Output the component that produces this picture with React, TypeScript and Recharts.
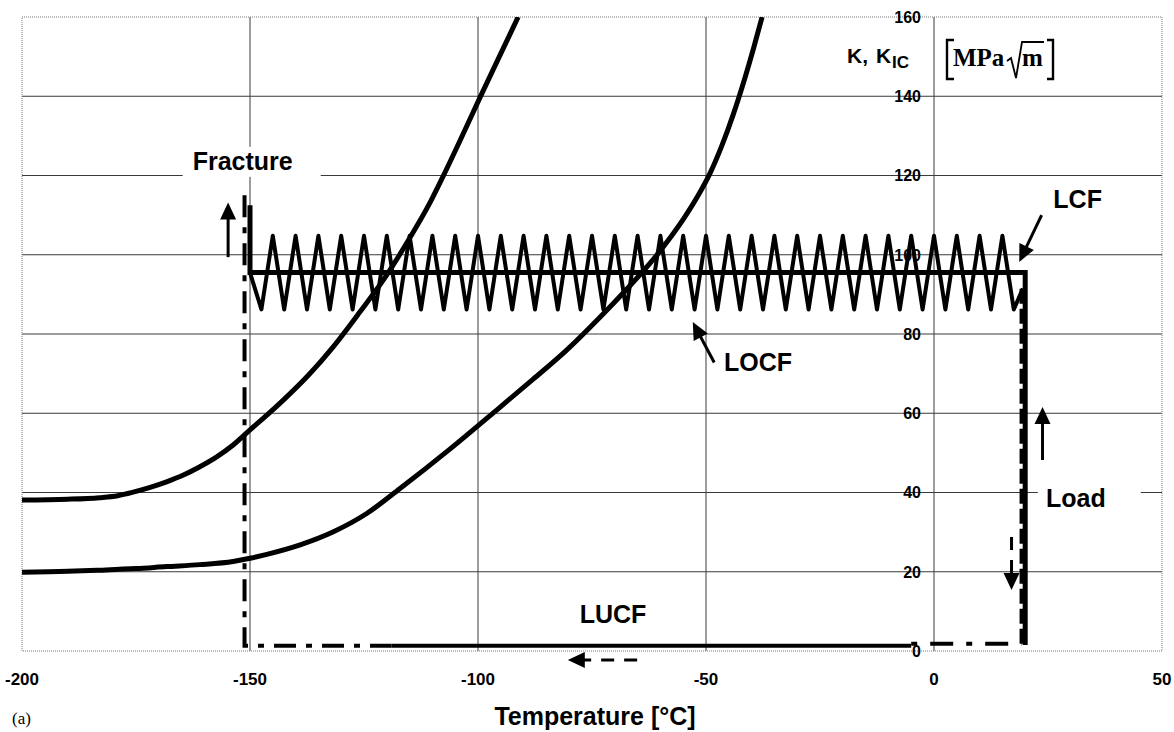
import React from 'react';
import {
  LineChart, Line, XAxis, YAxis, CartesianGrid, ReferenceLine, ReferenceDot, ReferenceArea,
} from 'recharts';

const SANS = 'Arial, "Liberation Sans", Helvetica, sans-serif';
const SERIF = '"Times New Roman", "Liberation Serif", serif';

const W = 1174;
const H = 732;

// axes: temperature (°C) and stress intensity K (MPa·√m)
const xTicks = [-200, -150, -100, -50, 0, 50];
const yTicks = [0, 20, 40, 60, 80, 100, 120, 140, 160];
const xGridValues = [-150, -100, -50, 0];
const yGridValues = [20, 40, 60, 80, 100, 120, 140];

// K_IC transition curve, upper
const kicUpperT = [-200, -190, -183, -179, -175.6, -171.9, -168.3, -164.6, -161, -157.3, -153.7, -150,
  -146.3, -142.7, -137.1, -131.8, -126, -120, -115.3, -110.5, -107.9, -103.9, -99.6, -95.4, -91.2];
const kicUpperK = [38.1, 38.3, 38.7, 39.2, 40.1, 41.3, 42.7, 44.4, 46.5, 49, 52, 55.8,
  59.5, 63.3, 69.7, 76.7, 85.4, 94.9, 103.6, 113.2, 119.2, 128.9, 139.6, 149.8, 160];

// K_IC transition curve, lower
const kicLowerT = [-200, -190, -182.9, -175, -168.3, -161, -153.7, -150, -146.3, -139, -131.7, -124.4,
  -117.1, -106.1, -95.2, -87.9, -80.5, -73.2, -67.8, -62.3, -57.9, -54.6, -51.8, -49.1, -46.5, -44,
  -41.5, -39.6, -37.7];
const kicLowerK = [19.9, 20.1, 20.4, 20.8, 21.3, 21.8, 22.6, 23.4, 24.4, 26.8, 30.1, 34.7,
  41, 51, 61.5, 68.6, 76, 84.3, 90.8, 97.8, 104.2, 109.6, 114.8, 120.6, 127.6, 135.5,
  144.5, 152, 160];

// LCF: load up at -150, hold along the plateau, unload path at +20
const lcfT = [-150, -150, 20, 20];
const lcfK = [112.5, 95.5, 95.5, 1.5];

// LOCF: cycling about the plateau
const locfT = [-150, -147.5, -145, -142.5, -140, -137.5, -135, -132.5, -130, -127.5, -125, -122.5, -120,
  -117.5, -115, -112.5, -110, -107.5, -105, -102.5, -100, -97.5, -95, -92.5, -90, -87.5, -85, -82.5, -80,
  -77.5, -75, -72.5, -70, -67.5, -65, -62.5, -60, -57.5, -55, -52.5, -50, -47.5, -45, -42.5, -40, -37.5,
  -35, -32.5, -30, -27.5, -25, -22.5, -20, -17.5, -15, -12.5, -10, -7.5, -5, -2.5, 0, 2.5, 5, 7.5, 10,
  12.5, 15, 17.5, 19.5];
const locfK = [95.5, 86.2, 104.8, 86.2, 104.8, 86.2, 104.8, 86.2, 104.8, 86.2, 104.8, 86.2, 104.8,
  86.2, 104.8, 86.2, 104.8, 86.2, 104.8, 86.2, 104.8, 86.2, 104.8, 86.2, 104.8, 86.2, 104.8, 86.2, 104.8,
  86.2, 104.8, 86.2, 104.8, 86.2, 104.8, 86.2, 104.8, 86.2, 104.8, 86.2, 104.8, 86.2, 104.8, 86.2, 104.8, 86.2,
  104.8, 86.2, 104.8, 86.2, 104.8, 86.2, 104.8, 86.2, 104.8, 86.2, 104.8, 86.2, 104.8, 86.2, 104.8, 86.2, 104.8, 86.2, 104.8,
  86.2, 104.8, 86.2, 91.5];

// LUCF: unloaded cooling back along the bottom
const lucfT = [-119, -5];
const lucfK = [1.3, 1.3];
const fractureDropT = [-151.2, -151.2, -119];
const fractureDropK = [115, 1.3, 1.3];
const lucfStartT = [-5, 19.2];
const lucfStartK = [1.8, 1.8];
const unloadT = [19.2, 19.2];
const unloadK = [1.8, 91.5];

type Pt = { t: number; k: number };
const zip = (ts: number[], ks: number[]): Pt[] => ts.map((t, i) => ({ t, k: ks[i] }));

// arrows: [tailT, tailK, tipT, tipK, dashed]
const arrows: Array<[number, number, number, number, boolean]> = [
  [-154.8, 99.4, -154.8, 113.2, false],
  [23.6, 110, 18.7, 98.2, false],
  [-48.2, 72.8, -52.9, 83, false],
  [23.8, 48.2, 23.8, 61.6, false],
  [17, 28.8, 17, 15.4, true],
  [-65.1, -2.3, -80.3, -2.3, true],
];

// text labels: [t, k, text, bgLeft, bgRight]
const labels: Array<[number, number, string, number, number]> = [
  [-151.6, 123.7, 'Fracture', 60, 78],
  [31.5, 114, 'LCF', 0, 0],
  [-38.6, 72.9, 'LOCF', 0, 0],
  [31.1, 38.6, 'Load', 38, 65],
  [-70.4, 9.3, 'LUCF', 0, 0],
];

const arrowShape = (dashed: boolean) => (p: any) => {
  const { x1, y1, x2, y2 } = p;
  const dx = x2 - x1;
  const dy = y2 - y1;
  const len = Math.hypot(dx, dy) || 1;
  const ux = dx / len;
  const uy = dy / len;
  const head = 17;
  const half = 8;
  const bx = x2 - ux * head;
  const by = y2 - uy * head;
  const nx = -uy * half;
  const ny = ux * half;
  return (
    <g>
      <line x1={x1} y1={y1} x2={bx + ux} y2={by + uy} stroke="#000" strokeWidth={3}
        strokeDasharray={dashed ? '13 10' : undefined} />
      <polygon points={`${x2},${y2} ${bx + nx},${by + ny} ${bx - nx},${by - ny}`} fill="#000" />
    </g>
  );
};

const labelShape = (text: string, bgL: number, bgR: number) => (p: any) => (
  <g>
    {bgL + bgR > 0 && (
      <rect x={p.cx - bgL} y={p.cy - 14} width={bgL + bgR} height={30} fill="#fff" />
    )}
    <text x={p.cx} y={p.cy} dy="0.36em" textAnchor="middle" fontFamily={SANS} fontWeight="bold"
      fontSize={25} fill="#000">{text}</text>
  </g>
);

const yTickShape = (v: number) => (p: any) => (
  <text x={p.cx - 13} y={p.cy} dy="0.36em" textAnchor="end" fontFamily={SANS} fontWeight="bold"
    fontSize={16} fill="#000">{v}</text>
);

// y-axis title, anchored at the top of the K axis
const yTitleShape = (p: any) => {
  const x = p.cx;
  const y = p.cy;
  return (
    <g fill="#000">
      <text x={x - 87} y={y + 46} fontFamily={SANS} fontWeight="bold" fontSize={21}>K,</text>
      <text x={x - 58} y={y + 46} fontFamily={SANS} fontWeight="bold" fontSize={21}>K</text>
      <text x={x - 42} y={y + 51} fontFamily={SANS} fontWeight="bold" fontSize={17}>IC</text>
      <path d={`M${x + 20},${y + 23} H${x + 13} V${y + 62} H${x + 20}`} stroke="#000" strokeWidth={2.4} fill="none" />
      <text x={x + 19} y={y + 49} fontFamily={SERIF} fontWeight="bold" fontSize={25}>MPa</text>
      <path d={`M${x + 73},${y + 44} L${x + 77},${y + 41} L${x + 82},${y + 61} L${x + 88},${y + 25} H${x + 110}`}
        stroke="#000" strokeWidth={1.8} fill="none" />
      <text x={x + 88} y={y + 49} fontFamily={SERIF} fontWeight="bold" fontSize={25}>m</text>
      <path d={`M${x + 113},${y + 23} H${x + 119} V${y + 62} H${x + 113}`} stroke="#000" strokeWidth={2.4} fill="none" />
    </g>
  );
};

const xLabel = (p: any) => {
  const vb = p.viewBox;
  return (
    <text x={vb.x + vb.width / 2 + 3} y={vb.y + 74} textAnchor="middle" fontFamily={SANS} fontWeight="bold"
      fontSize={25} fill="#000">Temperature [°C]</text>
  );
};

export default function App() {
  const thick = { stroke: '#000', dot: false, activeDot: false, isAnimationActive: false, legendType: 'none' as const };
  return (
    <div style={{ position: 'absolute', left: 0, top: 0, width: W, height: H, background: '#fff' }}>
      <LineChart width={W} height={H} margin={{ top: 17, right: 12, left: 22, bottom: 1 }}>
        <CartesianGrid stroke="#3a3a3a" strokeWidth={1}
          horizontalValues={yGridValues} verticalValues={xGridValues} />
        <ReferenceArea x1={-200} x2={50} y1={0} y2={160} fill="none" stroke="#7a7a7a"
          strokeDasharray="1 1" ifOverflow="visible" />
        <XAxis dataKey="t" type="number" domain={[-200, 50]} ticks={xTicks} allowDataOverflow
          axisLine={false} tickLine={false} tickSize={0} tickMargin={22} height={80}
          tick={{ fill: '#000', fontSize: 17, fontWeight: 'bold', fontFamily: SANS }}
          label={xLabel} />
        <YAxis type="number" domain={[0, 160]} ticks={yTicks} allowDataOverflow hide />

        <Line data={zip(kicUpperT, kicUpperK)} dataKey="k" type="monotone" strokeWidth={5} {...thick} />
        <Line data={zip(kicLowerT, kicLowerK)} dataKey="k" type="monotone" strokeWidth={5} {...thick} />
        <Line data={zip(locfT, locfK)} dataKey="k" type="linear" strokeWidth={4} strokeLinejoin="round" {...thick} />
        <Line data={zip(lcfT, lcfK)} dataKey="k" type="linear" strokeWidth={5} {...thick} />
        <Line data={zip(lucfT, lucfK)} dataKey="k" type="linear" strokeWidth={4} {...thick} />
        <Line data={zip(fractureDropT, fractureDropK)} dataKey="k" type="linear" strokeWidth={4}
          strokeDasharray="22 10 6 10" {...thick} />
        <Line data={zip(lucfStartT, lucfStartK)} dataKey="k" type="linear" strokeWidth={4}
          strokeDasharray="6 13 23 13" {...thick} />
        <Line data={zip(unloadT, unloadK)} dataKey="k" type="linear" strokeWidth={4}
          strokeDasharray="15 5" {...thick} />

        {arrows.map(([t1, k1, t2, k2, dashed], i) => (
          <ReferenceLine key={`a${i}`} segment={[{ x: t1, y: k1 }, { x: t2, y: k2 }]}
            ifOverflow="visible" shape={arrowShape(dashed)} />
        ))}
        {yTicks.map((v) => (
          <ReferenceDot key={`y${v}`} x={0} y={v} r={0} ifOverflow="visible" shape={yTickShape(v)} />
        ))}
        {labels.map(([t, k, text, l, r]) => (
          <ReferenceDot key={text} x={t} y={k} r={0} ifOverflow="visible" shape={labelShape(text, l, r)} />
        ))}
        <ReferenceDot x={0} y={160} r={0} ifOverflow="visible" shape={yTitleShape} />
      </LineChart>
      <div style={{ position: 'absolute', left: 12, top: 709, fontFamily: SERIF, fontSize: 17, color: '#000' }}>
        (a)
      </div>
    </div>
  );
}
